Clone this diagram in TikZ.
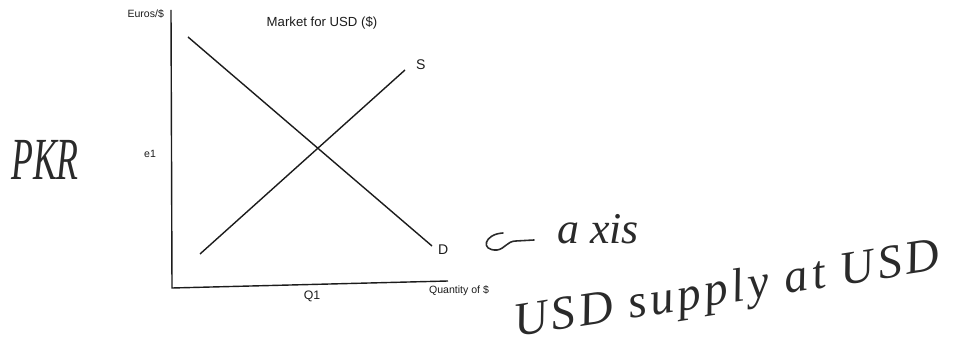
\documentclass[tikz,border=0pt]{standalone}
\usepackage{fontspec}
\setmainfont{Liberation Sans}
\newfontfamily\handfont{Liberation Serif}
\usetikzlibrary{positioning, calc}
\definecolor{inkDark}{HTML}{1C1C1C}
\definecolor{inkPen}{HTML}{2A2A2A}

\begin{document}
\begin{tikzpicture}[x=0.02cm, y=-0.02cm,
    lbl/.style={font=\fontsize{6}{7}\selectfont, text=inkDark, inner sep=1pt},
    hand/.style={text=inkPen, inner sep=0pt},
    curve/.style={line width=0.8pt, draw=inkDark}]
  \useasboundingbox (0,0) rectangle (957,347);
  % Ejes
  \coordinate (origen) at (172,288);
  \coordinate (ytop) at (171,10);
  \coordinate (xend) at (448,281);
  \draw[curve] (ytop) -- (origen) -- (xend);
  % Curvas de oferta y demanda
  \coordinate (d0) at (188,37);
  \coordinate (d1) at (432,246);
  \coordinate (s0) at (200,254);
  \coordinate (s1) at (405,70);
  \draw[curve] (d0) -- (d1);
  \draw[curve] (s0) -- (s1);
  \node[lbl, font=\fontsize{8}{9}\selectfont, anchor=west] (dlab) at (436,250) {D};
  \node[lbl, font=\fontsize{8}{9}\selectfont, anchor=west] (slab) at (414,65) {S};
  % Textos del grafico
  \node[lbl, anchor=east] (ylab) at (166,14) {Euros/\$};
  \node[lbl, font=\fontsize{7.5}{9}\selectfont] (titulo) at (322,23) {Market for USD (\$)};
  \node[lbl, anchor=east] (e1) at (158,154) {e1};
  \node[lbl, font=\fontsize{7}{8}\selectfont] (q1) at (312,296) {Q1};
  \node[lbl, anchor=west] (qlab) at (427,291) {Quantity of \$};
  % Notas a mano
  \node[hand, font=\handfont\itshape\fontsize{34}{36}\selectfont, xscale=0.6] (pkr) at (45,160) {PKR};
  \draw[line width=0.9pt, draw=inkPen, line cap=round]
    (503,233) .. controls (484,234) and (480,251) .. (497,250)
    .. controls (505,249) and (507,241) .. (516,241) -- (534,240);
  \node[hand, font=\handfont\itshape\fontsize{25}{27}\selectfont] (axis) at (598,229) {a xis};
  \node[hand, rotate=9, font=\handfont\itshape\fontsize{27}{29}\selectfont\addfontfeature{LetterSpace=8}] (usd) at (727,292) {USD supply at USD};
\end{tikzpicture}
\end{document}
